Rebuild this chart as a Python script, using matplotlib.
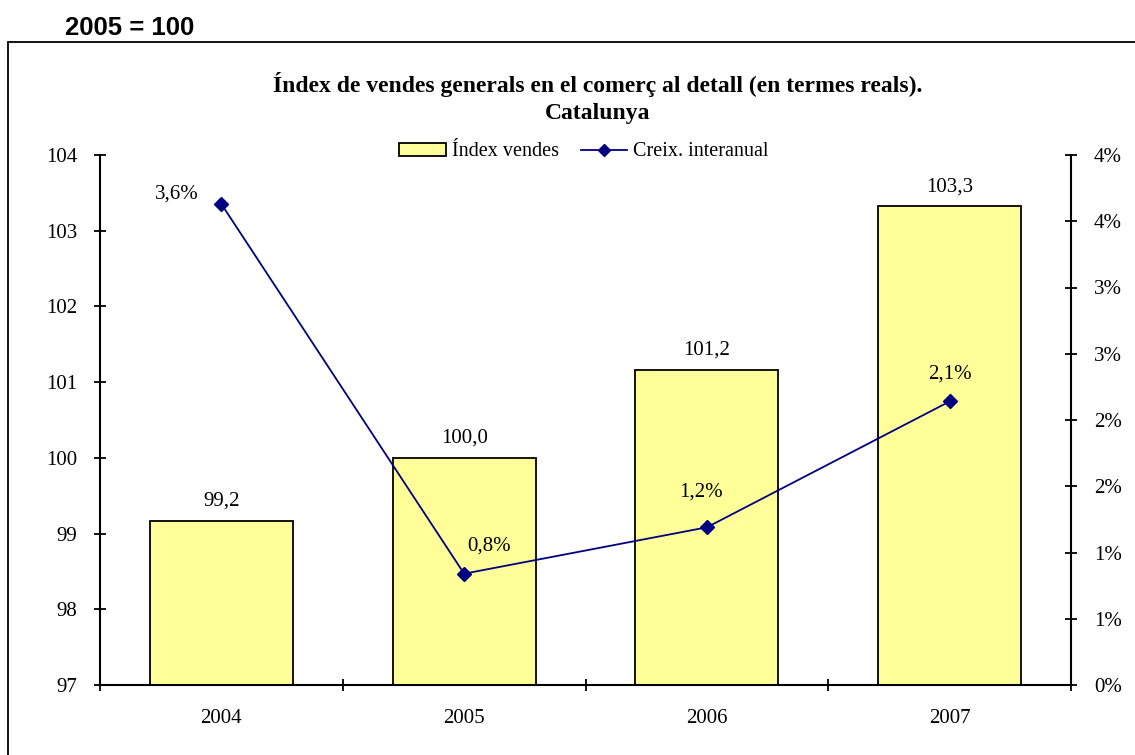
import matplotlib.pyplot as plt
from matplotlib.patches import Rectangle
from matplotlib.lines import Line2D

# dades
anys = ['2004', '2005', '2006', '2007']
index_vendes = [99.17, 100.0, 101.16, 103.32]
creix_interanual = [3.63, 0.84, 1.19, 2.14]
ticks_esq = [97, 98, 99, 100, 101, 102, 103, 104]
ticks_dre = [0, 0.5, 1, 1.5, 2, 2.5, 3, 3.5, 4]

plt.rcParams['font.family'] = 'Liberation Serif'

fig = plt.figure(figsize=(11.35, 7.55), dpi=100)
ax = fig.add_axes([100 / 1135, 1 - 685 / 755, 971 / 1135, 530 / 755])
ax2 = ax.twinx()

x = list(range(len(anys)))
ax.bar(x, [v - 97 for v in index_vendes], bottom=97, width=0.59,
       color='#FFFF99', edgecolor='black', linewidth=1.3, zorder=2)
for xi, v in zip(x, index_vendes):
    ax.annotate(f'{v:.1f}'.replace('.', ','), (xi, v), xytext=(0, 11),
                textcoords='offset points', ha='center', va='baseline', fontsize=15)

ax.set_xlim(-0.5, 3.5)
ax.set_ylim(97, 104)
ax.set_yticks(ticks_esq)
ax.set_xticks([i + 0.5 for i in range(-1, 4)])
ax.set_xticklabels([])
ax.set_xticks(x, minor=True)
ax.set_xticklabels(anys, minor=True)
ax.tick_params(axis='x', which='minor', length=0, pad=17, labelsize=15)
ax.tick_params(axis='x', which='major', direction='inout', length=9, width=1.3)
ax.tick_params(axis='y', direction='inout', length=9, width=1.3, labelsize=15, pad=12)

ax2.plot(x, creix_interanual, color='#000080', marker='D', markersize=7, linewidth=1.3, zorder=3)
ax2.set_ylim(0, 4)
ax2.set_yticks(ticks_dre)
ax2.set_yticklabels([f'{int(t + 0.5)}%' for t in ticks_dre])
ax2.tick_params(axis='y', direction='inout', length=9, width=1.3, labelsize=15, pad=12)

# posicio de les etiquetes de la linia (punts)
offsets = [(-32, 3.6), (18, 16.5), (-4.3, 22), (0, 16.5)]
for xi, v, off in zip(x, creix_interanual, offsets):
    ax2.annotate(f'{v:.1f}%'.replace('.', ','), (xi, v), xytext=off,
                 textcoords='offset points', ha='center', va='baseline', fontsize=15)

for a in (ax, ax2):
    a.spines['top'].set_visible(False)
    for s in a.spines.values():
        s.set_linewidth(1.5)
ax.spines['right'].set_visible(False)
ax2.spines['left'].set_visible(False)
ax2.spines['bottom'].set_visible(False)

fig.text(598 / 1135, 1 - 98 / 755,
         'Índex de vendes generals en el comerç al detall (en termes reals).\nCatalunya',
         ha='center', va='center', fontsize=17, fontweight='bold', linespacing=1.35)

handles = [Rectangle((0, 0), 1, 1, facecolor='#FFFF99', edgecolor='black', linewidth=1.3),
           Line2D([], [], color='#000080', marker='D', markersize=6, linewidth=1.3)]
fig.legend(handles, ['Índex vendes', 'Creix. interanual'], loc='center',
           bbox_to_anchor=(584 / 1135, 1 - 152 / 755), ncol=2, frameon=False,
           fontsize=14.5, handlelength=2.3, handleheight=0.6, columnspacing=1.1,
           handletextpad=0.3)

fig.text(65 / 1135, 1 - 28 / 755, '2005 = 100', ha='left', va='center',
         fontsize=18.5, fontweight='bold', family='Liberation Sans')

fig.patches.append(Rectangle((8 / 1135, -0.1), 1.1, 1.1 - 42 / 755, transform=fig.transFigure,
                             fill=False, edgecolor='black', linewidth=1.3))

fig.savefig('out.png', dpi=100)
